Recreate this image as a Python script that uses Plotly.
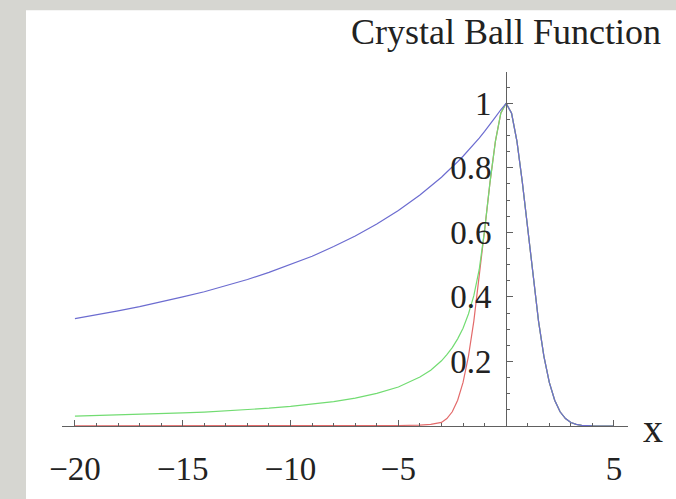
import plotly.graph_objects as go

# ---- data ----
x_vals = [-20, -19, -18, -17, -16, -15, -14, -13, -12, -11, -10, -9, -8, -7, -6, -5, -4,
          -3.5, -3, -2.75, -2.5, -2.25, -2, -1.75, -1.5, -1.25, -1, -0.75, -0.5, -0.25, 0,
          0.25, 0.5, 0.75, 1, 1.25, 1.5, 1.75, 2, 2.25, 2.5, 2.75, 3, 3.25, 3.5, 4, 4.5, 5]

blue_vals = [0.333, 0.344, 0.357, 0.370, 0.384, 0.400, 0.416, 0.434, 0.454, 0.476, 0.500,
             0.526, 0.556, 0.589, 0.626, 0.668, 0.716,
             0.743, 0.771, 0.787, 0.802, 0.819, 0.836, 0.854, 0.873, 0.892, 0.913, 0.934,
             0.957, 0.980, 1.0,
             0.969, 0.882, 0.755, 0.607, 0.458, 0.325, 0.216, 0.135, 0.080, 0.044, 0.023,
             0.011, 0.005, 0.002, 0.0003, 0.0, 0.0]

green_vals = [0.0303, 0.0319, 0.0337, 0.0357, 0.0379, 0.0404, 0.0433, 0.0467, 0.0505, 0.0551,
              0.0607, 0.0674, 0.0758, 0.0866, 0.101, 0.121, 0.152,
              0.173, 0.202, 0.221, 0.243, 0.270, 0.303, 0.347, 0.404, 0.485, 0.607, 0.755,
              0.882, 0.969, 1.0,
              0.969, 0.882, 0.755, 0.607, 0.458, 0.325, 0.216, 0.135, 0.080, 0.044, 0.023,
              0.011, 0.005, 0.002, 0.0003, 0.0, 0.0]

red_vals = [0.0002, 0.0002, 0.0002, 0.0003, 0.0003, 0.0003, 0.0003, 0.0004, 0.0004, 0.0004,
            0.0005, 0.0006, 0.0007, 0.0009, 0.0011, 0.0016, 0.003,
            0.005, 0.011, 0.023, 0.044, 0.080, 0.135, 0.216, 0.325, 0.458, 0.607, 0.755,
            0.882, 0.969, 1.0,
            0.969, 0.882, 0.755, 0.607, 0.458, 0.325, 0.216, 0.135, 0.080, 0.044, 0.023,
            0.011, 0.005, 0.002, 0.0003, 0.0, 0.0]

x_tick_vals = [-20, -15, -10, -5, 5]
y_tick_vals = [0.2, 0.4, 0.6, 0.8, 1.0]
y_tick_text = ["0.2", "0.4", "0.6", "0.8", "1"]
title_text = "Crystal Ball Function"
x_label = "x"

# ---- layout geometry ----
W, H = 676, 499
ML, MR, MT, MB = 62, 48, 72, 54
XR = [-20.6, 5.65]
YR = [0, 1.097]
pw = W - ML - MR
ph = H - MT - MB

def px_to_paper_x(px):
    return (px - ML) / pw

def py_to_paper_y(py):
    return (H - MB - py) / ph

FONT = "Liberation Serif, Times New Roman, serif"
AXIS_COLOR = "#606060"
BORDER = "#d6d6d1"

fig = go.Figure()
fig.add_trace(go.Scatter(x=x_vals, y=red_vals, mode="lines",
                         line=dict(color="#e36a6a", width=1.2), showlegend=False))
fig.add_trace(go.Scatter(x=x_vals, y=green_vals, mode="lines",
                         line=dict(color="#72dc72", width=1.2), showlegend=False))
fig.add_trace(go.Scatter(x=x_vals, y=blue_vals, mode="lines",
                         line=dict(color="#6c6cd0", width=1.2), showlegend=False))

yaxis_pos = (0 - XR[0]) / (XR[1] - XR[0])

fig.update_layout(
    width=W, height=H, autosize=False,
    margin=dict(l=ML, r=MR, t=MT, b=MB, pad=0),
    paper_bgcolor="white",
    plot_bgcolor="white",
    font=dict(family=FONT, size=33, color="#222222"),
    xaxis=dict(
        range=XR, showgrid=False, zeroline=False,
        showline=True, linecolor=AXIS_COLOR, linewidth=1,
        tickmode="array", tickvals=x_tick_vals,
        ticks="inside", ticklen=6, tickcolor=AXIS_COLOR, tickwidth=1,
        minor=dict(tickmode="linear", tick0=0, dtick=1, ticks="inside",
                   ticklen=3, tickcolor=AXIS_COLOR, tickwidth=1),
        tickfont=dict(family=FONT, size=33, color="#222222"),
        ticklabelstandoff=13,
        fixedrange=True,
    ),
    yaxis=dict(
        range=YR, showgrid=False, zeroline=False,
        anchor="free", position=yaxis_pos, side="left",
        showline=True, linecolor=AXIS_COLOR, linewidth=1,
        tickmode="array", tickvals=y_tick_vals, ticktext=y_tick_text,
        ticks="inside", ticklen=6, tickcolor=AXIS_COLOR, tickwidth=1,
        minor=dict(tickmode="linear", tick0=0, dtick=0.05, ticks="inside",
                   ticklen=3, tickcolor=AXIS_COLOR, tickwidth=1),
        tickfont=dict(family=FONT, size=33, color="#222222"),
        ticklabelstandoff=8,
        fixedrange=True,
    ),
    shapes=[
        # left textured-paper strip
        dict(type="rect", xref="paper", yref="paper", layer="below",
             x0=px_to_paper_x(-60), x1=px_to_paper_x(26),
             y0=py_to_paper_y(H + 60), y1=py_to_paper_y(-60),
             fillcolor=BORDER, line=dict(width=0)),
        # top strip
        dict(type="rect", xref="paper", yref="paper", layer="below",
             x0=px_to_paper_x(-60), x1=px_to_paper_x(W + 60),
             y0=py_to_paper_y(7), y1=py_to_paper_y(-60),
             fillcolor=BORDER, line=dict(width=0)),
    ],
    annotations=[
        dict(text=title_text, xref="paper", yref="paper",
             x=px_to_paper_x(663), y=py_to_paper_y(30),
             xanchor="right", yanchor="middle", showarrow=False,
             font=dict(family=FONT, size=36, color="#222222")),
        dict(text=x_label, xref="paper", yref="paper",
             x=px_to_paper_x(653), y=py_to_paper_y(448),
             xanchor="center", yanchor="middle", showarrow=False,
             font=dict(family=FONT, size=40, color="#222222")),
    ],
)

fig.write_html(
    "out.html",
    config={"displayModeBar": False},
    post_script="document.body.style.margin='0';document.body.style.padding='0';"
                "document.body.style.background='white';"
                "document.body.style.overflow='hidden';",
)
